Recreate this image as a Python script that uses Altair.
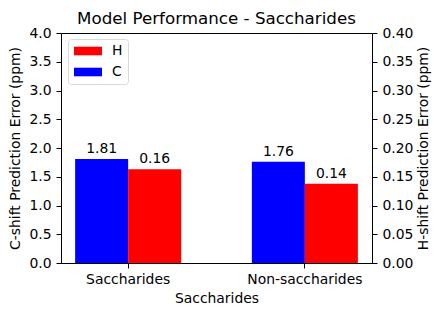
import altair as alt
import pandas as pd

categories = ["Saccharides", "Non-saccharides"]
c_values = [1.81, 1.76]
h_values = [0.163, 0.138]

FONT = "DejaVu Sans"
FS = 13.9

df = pd.DataFrame(
    {
        "category": categories * 2,
        "series": ["C"] * len(categories) + ["H"] * len(categories),
        "value": c_values + h_values,
    }
)

color = alt.Color(
    "series:N",
    scale=alt.Scale(domain=["H", "C"], range=["#ff0000", "#0000ff"]),
    legend=alt.Legend(
        title=None,
        orient="none",
        legendX=7,
        legendY=6,
        symbolType="M-2,-0.614L2,-0.614L2,0.614L-2,0.614Z",
        symbolSize=196,
        symbolStrokeWidth=0,
        symbolOffset=8,
        labelFont=FONT,
        labelFontSize=FS,
        labelColor="black",
        labelOffset=17,
        padding=5,
        rowPadding=7,
        strokeColor="#d9d9d9",
        fillColor="white",
        cornerRadius=3,
    ),
)

x = alt.X(
    "category:N",
    sort=categories,
    scale=alt.Scale(paddingInner=0.4, paddingOuter=0.08),
    axis=alt.Axis(title="Saccharides", labelAngle=0, labelPadding=4, titlePadding=6),
)
xoff = alt.XOffset("series:N", scale=alt.Scale(domain=["C", "H"], paddingInner=0, paddingOuter=0))

base = alt.Chart(df)

c_y = alt.Y(
    "value:Q",
    scale=alt.Scale(domain=[0, 4], nice=False),
    axis=alt.Axis(title="C-shift Prediction Error (ppm)", values=[0, 0.5, 1, 1.5, 2, 2.5, 3, 3.5, 4],
                  format=".1f", orient="left", titlePadding=6),
)
h_y = alt.Y(
    "value:Q",
    scale=alt.Scale(domain=[0, 0.4], nice=False),
    axis=alt.Axis(title="H-shift Prediction Error (ppm)", values=[0, 0.05, 0.1, 0.15, 0.2, 0.25, 0.3, 0.35, 0.4],
                  format=".2f", orient="right", titlePadding=4, titleAngle=270, titleBaseline="top"),
)

c_bar = base.transform_filter(alt.datum.series == "C").mark_bar().encode(x=x, xOffset=xoff, y=c_y, color=color)
c_txt = base.transform_filter(alt.datum.series == "C").mark_text(
    baseline="bottom", dy=-3, font=FONT, fontSize=FS, color="black"
).encode(x=x, xOffset=xoff, y=c_y, text=alt.Text("value:Q", format=".2f"))

h_bar = base.transform_filter(alt.datum.series == "H").mark_bar().encode(x=x, xOffset=xoff, y=h_y, color=color)
h_txt = base.transform_filter(alt.datum.series == "H").mark_text(
    baseline="bottom", dy=-3, font=FONT, fontSize=FS, color="black"
).encode(x=x, xOffset=xoff, y=h_y, text=alt.Text("value:Q", format=".2f"))

chart = (
    alt.layer(alt.layer(c_bar, c_txt), alt.layer(h_bar, h_txt))
    .resolve_scale(y="independent")
    .properties(
        width=311,
        height=230,
        title=alt.TitleParams(
            "Model Performance - Saccharides", font=FONT, fontSize=16.7, fontWeight="normal",
            color="black", offset=6, dy=8,
        ),
        autosize=alt.AutoSizeParams(type="none"),
        padding={"left": 53, "top": 25, "right": 61, "bottom": 45},
    )
    .configure_view(stroke="black", strokeWidth=1)
    .configure_axis(
        labelFont=FONT,
        labelFontSize=FS,
        labelColor="black",
        titleFont=FONT,
        titleFontSize=FS,
        titleFontWeight="normal",
        titleColor="black",
        domainColor="black",
        tickColor="black",
        tickSize=5,
        labelPadding=5,
        grid=False,
    )
)

chart.save("out.html", embed_options={"renderer": "svg", "actions": False})
